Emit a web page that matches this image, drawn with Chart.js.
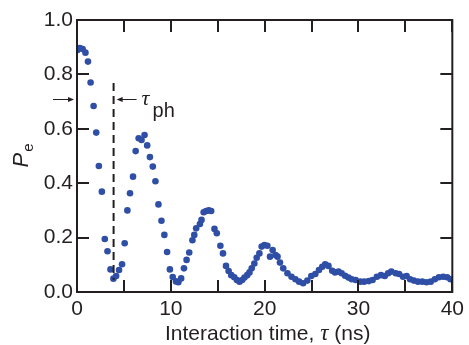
<!DOCTYPE html>
<html>
<head>
<meta charset="utf-8">
<script src="https://cdn.jsdelivr.net/npm/chart.js@4.4.1/dist/chart.umd.min.js"></script>
<style>
  html, body { margin: 0; padding: 0; background: #fff; }
  #wrap { width: 469px; height: 345px; }
</style>
</head>
<body>
<div id="wrap"><canvas id="c" width="469" height="345"></canvas></div>
<script>
// interaction time (ns) and excited-state probability
const times = [
  0.05, 0.3, 0.6, 0.9, 1.17, 1.45, 1.77, 2.05, 2.33, 2.65, 2.96, 3.25, 3.57, 3.88,
  4.17, 4.48, 4.8, 5.08, 5.37, 5.65, 5.97, 6.25, 6.57, 6.88, 7.2, 7.48, 7.77, 8.08,
  8.36, 8.68, 9.0, 9.31, 9.6, 9.9, 10.2, 10.55, 10.8, 11.1, 11.4, 11.68, 11.96, 12.3,
  12.5, 12.7, 13.1, 13.27, 13.5, 13.76, 14.04, 14.3, 14.65, 14.9, 15.28, 15.56, 15.88,
  16.16, 16.44, 16.76, 17.04, 17.32, 17.6, 17.85, 18.14, 18.38, 18.62, 18.9, 19.15,
  19.44, 19.68, 19.97, 20.29, 20.57, 20.85, 21.16, 21.37, 21.63, 21.98, 22.43, 22.86,
  23.28, 23.67, 24.1, 24.55, 24.97, 25.4, 25.79, 26.14, 26.45, 26.8, 27.2, 27.5, 27.87,
  28.2, 28.57, 28.93, 29.28, 29.7, 30.2, 30.6, 31.1, 31.5, 31.96, 32.4, 32.8, 33.16,
  33.5, 33.97, 34.33, 34.75, 35.13, 35.5, 35.9, 36.34, 36.8, 37.25, 37.7, 38.14, 38.57,
  39.03, 39.45, 39.8
];
const pe = [
  0.89, 0.897, 0.893, 0.88, 0.847, 0.77, 0.684, 0.586, 0.463, 0.369, 0.195, 0.15, 0.083, 0.049,
  0.059, 0.081, 0.102, 0.179, 0.30, 0.363, 0.424, 0.518, 0.565, 0.559, 0.577, 0.539, 0.496, 0.461,
  0.407, 0.322, 0.262, 0.21, 0.147, 0.083, 0.055, 0.039, 0.036, 0.05, 0.087, 0.118, 0.145, 0.19,
  0.21, 0.234, 0.25, 0.265, 0.293, 0.298, 0.30, 0.298, 0.232, 0.216, 0.17, 0.142, 0.096,
  0.077, 0.062, 0.054, 0.044, 0.038, 0.044, 0.053, 0.062, 0.072, 0.087, 0.105, 0.126,
  0.142, 0.167, 0.173, 0.17, 0.13, 0.154, 0.136, 0.13, 0.108, 0.087, 0.069, 0.056,
  0.047, 0.038, 0.032, 0.042, 0.059, 0.066, 0.081, 0.093, 0.102, 0.096, 0.078, 0.072, 0.075,
  0.069, 0.06, 0.053, 0.047, 0.044, 0.038, 0.038, 0.04, 0.044, 0.056, 0.062, 0.059, 0.069,
  0.075, 0.069, 0.066, 0.056, 0.059, 0.047, 0.042, 0.038, 0.038, 0.036, 0.038, 0.047, 0.054,
  0.056, 0.054, 0.047
];

// photon lifetime marker
const tauPh = 3.9;
const tauPhTop = 0.768;
const tauPhBottom = 0.045;
const arrowLevel = 0.71;

const ink = '#231f20';
const dotColor = '#2f4ea6';
const sans = '"Liberation Sans", Arial, sans-serif';
const serif = '"Liberation Serif", "Times New Roman", serif';

const frame = {
  id: 'frame',
  afterDraw(chart) {
    const { ctx, chartArea: a, scales: { x, y } } = chart;
    ctx.save();
    ctx.strokeStyle = ink;

    // box
    ctx.lineWidth = 2;
    ctx.strokeRect(a.left, a.top, a.right - a.left, a.bottom - a.top);

    // inward ticks
    const tl = 12;
    ctx.beginPath();
    x.ticks.forEach((t) => {
      const px = Math.round(x.getPixelForValue(t.value));
      ctx.moveTo(px, a.bottom); ctx.lineTo(px, a.bottom - tl);
      ctx.moveTo(px, a.top); ctx.lineTo(px, a.top + tl);
    });
    y.ticks.forEach((t) => {
      const py = Math.round(y.getPixelForValue(t.value));
      ctx.moveTo(a.left, py); ctx.lineTo(a.left + tl, py);
      ctx.moveTo(a.right, py); ctx.lineTo(a.right - tl, py);
    });
    ctx.stroke();

    // dashed line at tau_ph
    const dx = x.getPixelForValue(tauPh);
    ctx.lineWidth = 2;
    ctx.setLineDash([8, 5]);
    ctx.beginPath();
    ctx.moveTo(dx, y.getPixelForValue(tauPhTop));
    ctx.lineTo(dx, y.getPixelForValue(tauPhBottom));
    ctx.stroke();
    ctx.setLineDash([]);

    // arrows
    const ay = Math.round(y.getPixelForValue(arrowLevel)) + 0.5;
    const arrow = (x0, x1) => {
      const dir = Math.sign(x1 - x0);
      ctx.lineWidth = 1;
      ctx.beginPath();
      ctx.moveTo(x0, ay); ctx.lineTo(x1 - dir * 4, ay);
      ctx.stroke();
      ctx.fillStyle = ink;
      ctx.beginPath();
      ctx.moveTo(x1, ay);
      ctx.lineTo(x1 - dir * 6, ay - 2.5);
      ctx.lineTo(x1 - dir * 6, ay + 2.5);
      ctx.closePath();
      ctx.fill();
    };
    arrow(a.left - 24, a.left - 3);
    arrow(dx + 23, dx + 3);

    // tau_ph label
    ctx.fillStyle = ink;
    ctx.textBaseline = 'alphabetic';
    ctx.textAlign = 'left';
    ctx.font = 'italic 22px ' + serif;
    ctx.fillText('τ', dx + 28, ay + 5);
    ctx.font = '20px ' + sans;
    ctx.fillText('ph', dx + 39, ay + 17);

    // x title
    const parts = [
      ['Interaction time, ', '21px ' + sans],
      ['τ', 'italic 23px ' + serif],
      [' (ns)', '21px ' + sans],
    ];
    let w = 0;
    parts.forEach(([s, f]) => { ctx.font = f; w += ctx.measureText(s).width; });
    let tx = (a.left + a.right) / 2 + 3 - w / 2;
    const ty = 340;
    parts.forEach(([s, f]) => {
      ctx.font = f;
      ctx.fillText(s, tx, ty);
      tx += ctx.measureText(s).width;
    });

    // y title
    ctx.translate(28, (a.top + a.bottom) / 2);
    ctx.rotate(-Math.PI / 2);
    ctx.font = 'italic 22px ' + sans;
    const pw = ctx.measureText('P').width;
    ctx.font = '15px ' + sans;
    const ew = ctx.measureText('e').width;
    const sx = -(pw + ew) / 2;
    ctx.font = 'italic 22px ' + sans;
    ctx.fillText('P', sx, 0);
    ctx.font = '15px ' + sans;
    ctx.fillText('e', sx + pw + 1, 5);
    ctx.restore();
  },
};

new Chart(document.getElementById('c'), {
  type: 'scatter',
  data: {
    datasets: [{
      data: times.map((t, i) => ({ x: t, y: pe[i] })),
      backgroundColor: dotColor,
      borderWidth: 0,
      pointRadius: 3.3,
    }],
  },
  options: {
    responsive: false,
    animation: false,
    layout: { padding: { top: 20, right: 13, left: 0, bottom: 0 } },
    plugins: { legend: { display: false }, tooltip: { enabled: false } },
    scales: {
      x: {
        type: 'linear',
        min: 0,
        max: 40,
        grid: { display: false, drawTicks: false, tickLength: 0 },
        border: { display: false },
        ticks: {
          stepSize: 5,
          padding: 5,
          color: ink,
          font: { family: sans, size: 21 },
          maxRotation: 0,
          callback: (v) => (v % 10 === 0 ? String(v) : ''),
        },
        afterFit: (s) => { s.height = 53; },
      },
      y: {
        min: 0,
        max: 1,
        grid: { display: false, drawTicks: false, tickLength: 0 },
        border: { display: false },
        ticks: {
          stepSize: 0.2,
          padding: 4,
          color: ink,
          font: { family: sans, size: 21 },
          callback: (v) => v.toFixed(1),
        },
        afterFit: (s) => { s.width = 77; },
      },
    },
  },
  plugins: [frame],
});
</script>
</body>
</html>
